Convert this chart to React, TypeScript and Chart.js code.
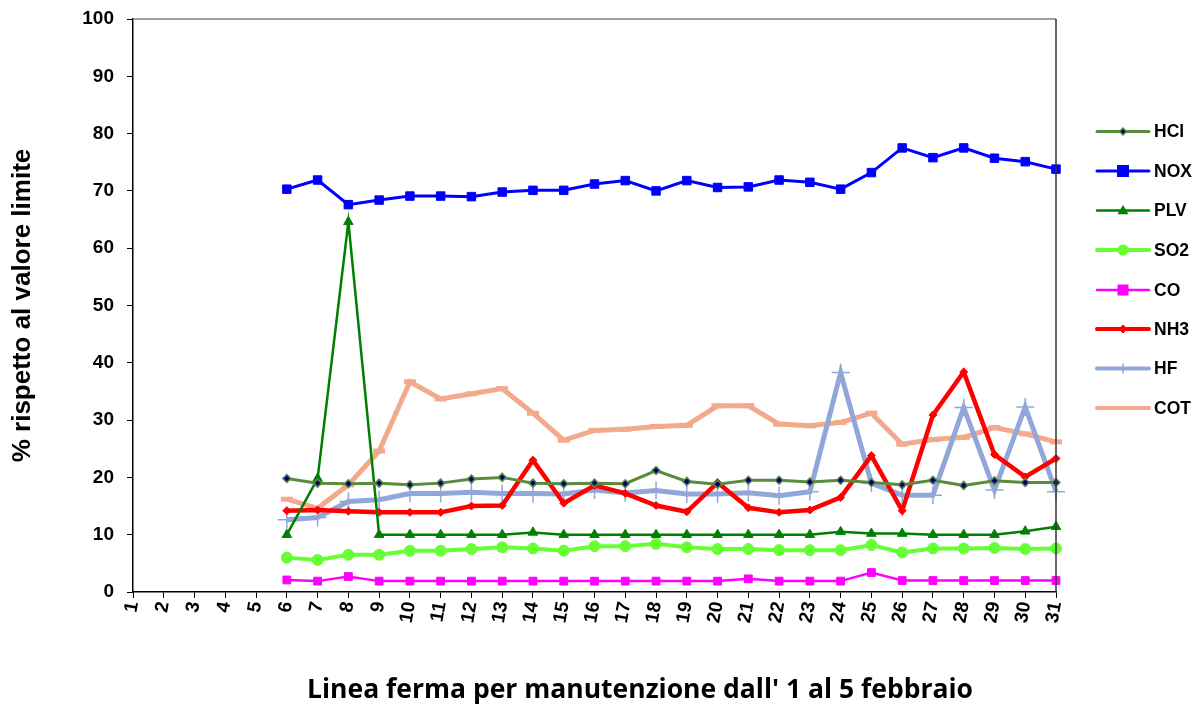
import React, { useEffect, useRef } from "react";
import { Chart, registerables } from "chart.js";

Chart.register(...registerables);

const days = Array.from({ length: 31 }, (_, i) => String(i + 1));
const yTicks = [0, 10, 20, 30, 40, 50, 60, 70, 80, 90, 100];
const N = null;

const hcl = [N, N, N, N, N, 19.8, 19.0, 18.9, 19.0, 18.7, 19.0, 19.7, 20.0, 19.0, 18.9, 19.0, 18.9, 21.2, 19.3, 18.8, 19.5, 19.5, 19.2, 19.5, 19.1, 18.7, 19.5, 18.6, 19.4, 19.1, 19.1];
const nox = [N, N, N, N, N, 70.3, 71.9, 67.6, 68.4, 69.1, 69.1, 69.0, 69.8, 70.1, 70.1, 71.2, 71.8, 70.0, 71.8, 70.6, 70.7, 71.9, 71.5, 70.3, 73.2, 77.5, 75.8, 77.5, 75.7, 75.1, 73.8];
const plv = [N, N, N, N, N, 10.0, 19.8, 64.6, 10.0, 10.0, 10.0, 10.0, 10.0, 10.4, 10.0, 10.0, 10.0, 10.0, 10.0, 10.0, 10.0, 10.0, 10.0, 10.5, 10.2, 10.2, 10.0, 10.0, 10.0, 10.6, 11.4];
const so2 = [N, N, N, N, N, 6.0, 5.6, 6.5, 6.5, 7.2, 7.2, 7.5, 7.8, 7.6, 7.2, 8.0, 8.0, 8.4, 7.8, 7.5, 7.5, 7.3, 7.3, 7.3, 8.2, 6.9, 7.6, 7.6, 7.7, 7.5, 7.6];
const co = [N, N, N, N, N, 2.1, 1.9, 2.7, 1.9, 1.9, 1.9, 1.9, 1.9, 1.9, 1.9, 1.9, 1.9, 1.9, 1.9, 1.9, 2.3, 1.9, 1.9, 1.9, 3.4, 2.0, 2.0, 2.0, 2.0, 2.0, 2.0];
const nh3 = [N, N, N, N, N, 14.2, 14.3, 14.1, 13.9, 13.9, 13.9, 15.0, 15.1, 23.0, 15.5, 18.6, 17.2, 15.1, 14.0, 19.1, 14.7, 13.9, 14.3, 16.5, 23.8, 14.2, 30.9, 38.4, 24.0, 20.1, 23.3];
const hf = [N, N, N, N, N, 12.6, 13.0, 15.8, 16.1, 17.2, 17.2, 17.4, 17.2, 17.2, 17.1, 17.8, 17.3, 17.7, 17.1, 17.1, 17.3, 16.8, 17.5, 38.3, 19.0, 16.9, 16.9, 32.2, 17.8, 32.3, 17.5];
const cot = [N, N, N, N, N, 16.2, 14.6, 18.7, 24.6, 36.7, 33.7, 34.6, 35.5, 31.2, 26.5, 28.2, 28.4, 28.9, 29.1, 32.5, 32.5, 29.3, 29.0, 29.6, 31.2, 25.8, 26.6, 27.0, 28.7, 27.6, 26.2];

const xTitle = "Linea ferma per manutenzione dall' 1 al 5 febbraio";
const yTitle = "% rispetto al valore limite";

export default function App() {
  const ref = useRef<HTMLCanvasElement | null>(null);

  useEffect(() => {
    document.body.style.margin = "0";
    const canvas = ref.current;
    if (!canvas) return;

    const datasets: any[] = [
      { label: "HCl", data: hcl, borderColor: "#5A8A3C", borderWidth: 3, pointStyle: "rectRot", pointRadius: 4, pointBackgroundColor: "#000080", pointBorderColor: "#5A8A3C", pointBorderWidth: 1.5, legendMarker: 3.5 },
      { label: "NOX", data: nox, borderColor: "#0000FF", borderWidth: 3, pointStyle: "rect", pointRadius: 6, pointBackgroundColor: "#0000FF", pointBorderColor: "#0000FF", pointBorderWidth: 1, legendMarker: 6 },
      { label: "PLV", data: plv, borderColor: "#008000", borderWidth: 2.5, pointStyle: "triangle", pointRadius: 5.5, pointBackgroundColor: "#008000", pointBorderColor: "#008000", pointBorderWidth: 1, legendMarker: 5.5 },
      { label: "SO2", data: so2, borderColor: "#66FF33", borderWidth: 4, pointStyle: "circle", pointRadius: 5.5, pointBackgroundColor: "#66FF33", pointBorderColor: "#66FF33", pointBorderWidth: 1, legendMarker: 5.5 },
      { label: "CO", data: co, borderColor: "#FF00FF", borderWidth: 2.5, pointStyle: "rect", pointRadius: 5.5, pointBackgroundColor: "#FF00FF", pointBorderColor: "#FF00FF", pointBorderWidth: 1, legendMarker: 5.5 },
      { label: "NH3", data: nh3, borderColor: "#FF0000", borderWidth: 4.5, pointStyle: "rectRot", pointRadius: 4, pointBackgroundColor: "#FF0000", pointBorderColor: "#FF0000", pointBorderWidth: 1, legendMarker: 4 },
      { label: "HF", data: hf, borderColor: "#91A7DA", borderWidth: 5, pointStyle: "cross", pointRadius: 9, pointBackgroundColor: "#91A7DA", pointBorderColor: "#91A7DA", pointBorderWidth: 1.5, legendMarker: 5 },
      { label: "COT", data: cot, borderColor: "#F2A98C", borderWidth: 5, pointStyle: "line", pointRadius: 6, pointBackgroundColor: "#F2A98C", pointBorderColor: "#F2A98C", pointBorderWidth: 5, legendMarker: 0 },
    ];
    datasets.forEach((d) => {
      d.tension = 0;
      d.fill = false;
      d.pointHoverRadius = d.pointRadius;
    });

    function drawMarker(ctx: CanvasRenderingContext2D, style: string, r: number, x: number, y: number) {
      ctx.beginPath();
      if (style === "rect") {
        ctx.rect(x - r, y - r, 2 * r, 2 * r);
        ctx.fill();
      } else if (style === "rectRot") {
        ctx.moveTo(x, y - r);
        ctx.lineTo(x + r, y);
        ctx.lineTo(x, y + r);
        ctx.lineTo(x - r, y);
        ctx.closePath();
        ctx.fill();
        ctx.stroke();
      } else if (style === "triangle") {
        ctx.moveTo(x, y - r);
        ctx.lineTo(x + r, y + r * 0.7);
        ctx.lineTo(x - r, y + r * 0.7);
        ctx.closePath();
        ctx.fill();
      } else if (style === "circle") {
        ctx.arc(x, y, r, 0, Math.PI * 2);
        ctx.fill();
      } else if (style === "cross") {
        ctx.moveTo(x, y - r);
        ctx.lineTo(x, y + r);
        ctx.stroke();
      }
    }

    const extras = {
      id: "extras",
      afterDraw(chart: any) {
        const { ctx, chartArea } = chart;
        ctx.save();
        ctx.strokeStyle = "#808080";
        ctx.lineWidth = 1.5;
        ctx.beginPath();
        ctx.moveTo(chartArea.left, chartArea.top);
        ctx.lineTo(chartArea.right, chartArea.top);
        ctx.stroke();
        ctx.strokeStyle = "#333333";
        ctx.beginPath();
        ctx.moveTo(chartArea.right, chartArea.top);
        ctx.lineTo(chartArea.right, chartArea.bottom);
        ctx.stroke();

        const rowY = [131.5, 171, 210.5, 250, 290, 329, 368.5, 408];
        chart.data.datasets.forEach((ds: any, i: number) => {
          const y = rowY[i];
          ctx.strokeStyle = ds.borderColor;
          ctx.lineWidth = Math.min(ds.borderWidth, 4);
          ctx.lineCap = "round";
          ctx.beginPath();
          ctx.moveTo(1097, y);
          ctx.lineTo(1149, y);
          ctx.stroke();
          ctx.lineCap = "butt";
          if (ds.legendMarker > 0) {
            ctx.fillStyle = ds.pointBackgroundColor;
            ctx.strokeStyle = ds.pointBorderColor;
            ctx.lineWidth = ds.pointBorderWidth;
            drawMarker(ctx, ds.pointStyle, ds.legendMarker, 1123, y);
          }
          ctx.fillStyle = "#000";
          ctx.font = "bold 17.5px 'Liberation Sans', Arial, sans-serif";
          ctx.textAlign = "left";
          ctx.textBaseline = "middle";
          ctx.fillText(ds.label, 1154, y + 1);
        });

        ctx.fillStyle = "#000";
        ctx.font = "bold 26.5px 'Open Sans', sans-serif";
        ctx.textAlign = "center";
        ctx.textBaseline = "middle";
        ctx.fillText(xTitle, 640, 690);
        ctx.restore();
      },
    };

    const chart = new Chart(canvas, {
      type: "line",
      data: { labels: days, datasets },
      options: {
        responsive: false,
        animation: false,
        events: [],
        layout: { padding: { top: 19, right: 145, left: 0, bottom: 0 } },
        plugins: { legend: { display: false }, tooltip: { enabled: false }, title: { display: false } },
        scales: {
          x: {
            type: "category",
            offset: false,
            afterFit: (s: any) => { s.height = 119; s.paddingLeft = 0; s.paddingRight = 0; },
            grid: { display: true, drawOnChartArea: false, drawTicks: true, tickLength: 6, color: "#000", offset: false },
            border: { display: true, color: "#000", width: 1.5 },
            ticks: {
              autoSkip: false,
              maxRotation: 80,
              minRotation: 80,
              padding: 2,
              color: "#000",
              font: { family: "Liberation Sans", size: 19, weight: "bold" },
            },
          },
          y: {
            min: 0,
            max: 100,
            afterFit: (s: any) => { s.width = 133; s.paddingTop = 0; s.paddingBottom = 0; },
            afterBuildTicks: (s: any) => { s.ticks = yTicks.map((v) => ({ value: v })); },
            grid: { display: true, drawOnChartArea: false, drawTicks: true, tickLength: 6, color: "#000" },
            border: { display: true, color: "#000", width: 1.5 },
            ticks: {
              padding: 13,
              color: "#000",
              font: { family: "Liberation Sans", size: 19, weight: "bold" },
            },
            title: {
              display: true,
              text: yTitle,
              color: "#000",
              padding: { top: 7, bottom: 0 },
              font: { family: "Liberation Sans", size: 26, weight: "bold" },
            },
          },
        },
      },
      plugins: [extras],
    } as any);

    return () => chart.destroy();
  }, []);

  return (
    <div style={{ position: "absolute", left: 0, top: 0, width: 1201, height: 711 }}>
      <canvas ref={ref} width={1201} height={711} />
    </div>
  );
}
